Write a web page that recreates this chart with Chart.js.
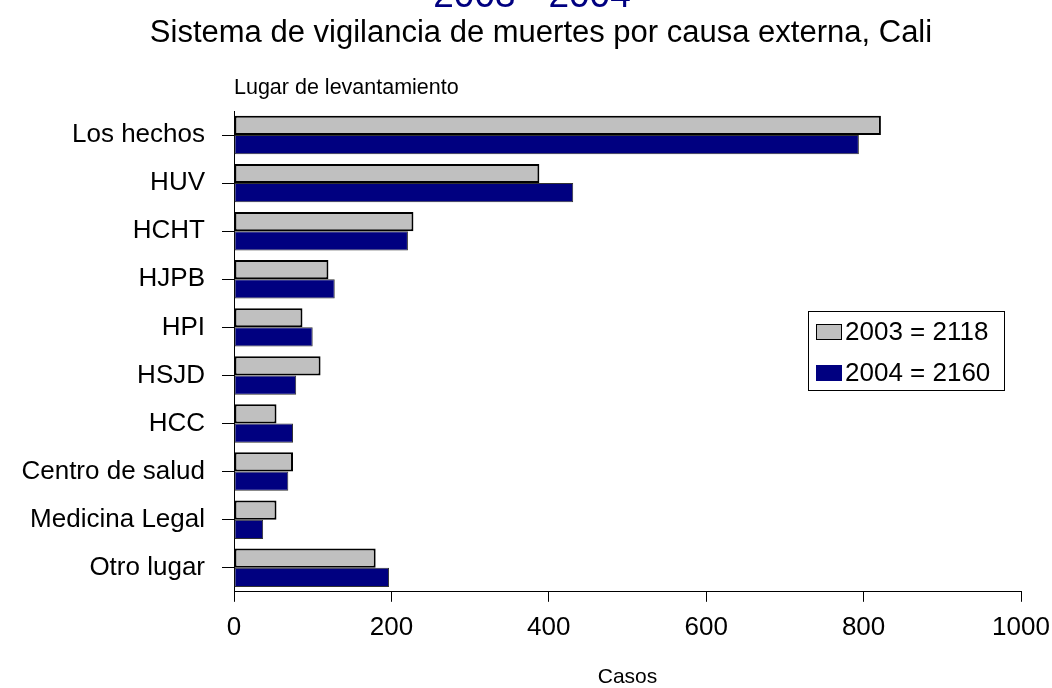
<!DOCTYPE html>
<html>
<head>
<meta charset="utf-8">
<script src="https://cdn.jsdelivr.net/npm/chart.js@4/dist/chart.umd.min.js"></script>
<style>
  html, body { margin: 0; padding: 0; background: #fff; overflow: hidden; }
  #wrap { position: relative; width: 1052px; height: 688px; }
</style>
</head>
<body>
<div id="wrap"><canvas id="chart"></canvas></div>
<script>
const categories = ['Los hechos', 'HUV', 'HCHT', 'HJPB', 'HPI', 'HSJD', 'HCC', 'Centro de salud', 'Medicina Legal', 'Otro lugar']
const cases2003 = [822, 388, 228, 120, 87, 110, 54, 75, 54, 180]
const cases2004 = [794, 431, 221, 128, 100, 79, 75, 69, 37, 197]
const seriesLabels = ['2003 = 2118', '2004 = 2160']
const xMin = 0
const xMax = 1000
const xStep = 200

const FONT = 'Liberation Sans, Arial, sans-serif'
const GRAY = '#c0c0c0'
const NAVY = '#000080'

// titles are drawn by hand: the blue one is mostly cut off at the top edge
const titles = {
  id: 'titles',
  afterDraw(chart) {
    const ctx = chart.ctx
    const area = chart.chartArea
    ctx.save()
    ctx.textAlign = 'center'
    ctx.textBaseline = 'alphabetic'
    ctx.fillStyle = NAVY
    ctx.font = '37px ' + FONT
    ctx.fillText('2003 - 2004', 532, 7)
    ctx.fillStyle = '#000'
    ctx.font = '31px ' + FONT
    ctx.textBaseline = 'middle'
    ctx.fillText('Sistema de vigilancia de muertes por causa externa, Cali', 541, 33)
    ctx.font = '21.5px ' + FONT
    ctx.textAlign = 'left'
    ctx.fillText('Lugar de levantamiento', area.left, area.top - 23)
    ctx.restore()
  }
}

// boxed legend inside the plot, like the original
const boxLegend = {
  id: 'boxLegend',
  afterDraw(chart) {
    const ctx = chart.ctx
    const area = chart.chartArea
    const x = area.left + 574
    const y = area.top + 200
    ctx.save()
    ctx.fillStyle = '#fff'
    ctx.fillRect(x, y, 196, 79)
    ctx.strokeStyle = '#000'
    ctx.lineWidth = 1
    ctx.strokeRect(x + 0.5, y + 0.5, 196, 79)
    ctx.font = '26px ' + FONT
    ctx.textBaseline = 'middle'
    chart.data.datasets.forEach((ds, i) => {
      const cy = y + 21 + i * 41
      ctx.fillStyle = ds.backgroundColor
      ctx.fillRect(x + 8, cy - 8, 26, 16)
      if (i === 0) {
        ctx.strokeStyle = '#000'
        ctx.strokeRect(x + 8.5, cy - 7.5, 25, 15)
      }
      ctx.fillStyle = '#000'
      ctx.fillText(ds.label, x + 37, cy + 1)
    })
    ctx.restore()
  }
}

new Chart(document.getElementById('chart'), {
  type: 'bar',
  data: {
    labels: categories,
    datasets: [
      {
        label: seriesLabels[0],
        data: cases2003,
        backgroundColor: GRAY,
        borderColor: '#000',
        borderWidth: 2,
        borderSkipped: false
      },
      {
        label: seriesLabels[1],
        data: cases2004,
        backgroundColor: NAVY,
        borderColor: '#333',
        borderWidth: 1,
        borderSkipped: false
      }
    ]
  },
  options: {
    indexAxis: 'y',
    responsive: true,
    maintainAspectRatio: false,
    animation: false,
    categoryPercentage: 0.8,
    barPercentage: 1.0,
    layout: { padding: { left: 0, right: 31, top: 111, bottom: 0 } },
    plugins: {
      legend: { display: false },
      tooltip: { enabled: false }
    },
    scales: {
      x: {
        min: xMin,
        max: xMax,
        // keep the plot edge at 1000 fixed, the label may hang over
        afterFit: (scale) => { scale.paddingLeft = 0; scale.paddingRight = 0 },
        ticks: {
          stepSize: xStep,
          color: '#000',
          padding: 10,
          font: { family: FONT, size: 26 },
          callback: (v) => String(v)
        },
        grid: { drawOnChartArea: false, drawTicks: true, tickLength: 10, color: '#000' },
        border: { color: '#000', width: 1 },
        title: {
          display: true,
          text: 'Casos',
          color: '#000',
          font: { family: FONT, size: 21, lineHeight: 1 },
          padding: { top: 14, bottom: 0 }
        }
      },
      y: {
        afterFit: (scale) => { scale.width = 234 },
        ticks: {
          color: '#000',
          padding: 17,
          autoSkip: false,
          font: { family: FONT, size: 26 }
        },
        grid: { offset: false, drawOnChartArea: false, drawTicks: true, tickLength: 12, color: '#000' },
        border: { color: '#000', width: 1 }
      }
    }
  },
  plugins: [titles, boxLegend]
})
</script>
</body>
</html>
